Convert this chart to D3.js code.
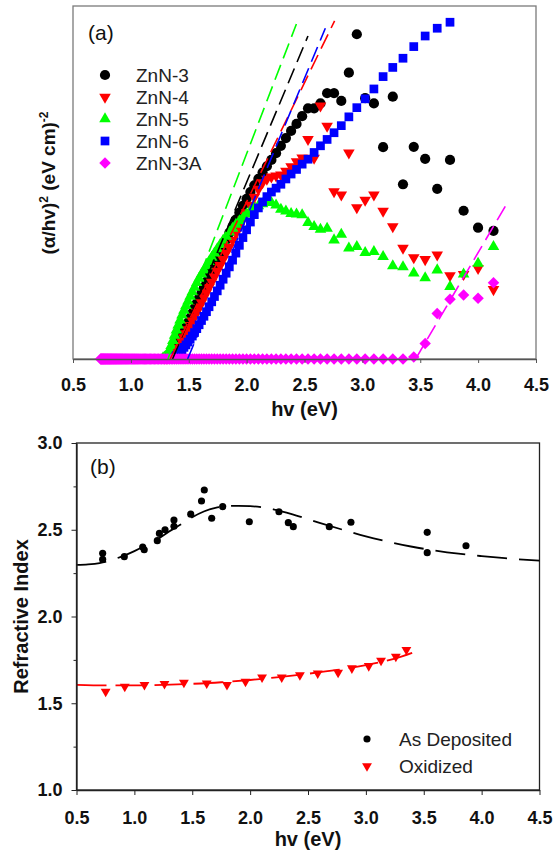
<!DOCTYPE html>
<html>
<head>
<meta charset="utf-8">
<script src="https://cdn.jsdelivr.net/npm/d3@7"></script>
<style>
  body { margin: 0; background: #fff; }
  svg { display: block; }
</style>
</head>
<body>
<svg id="chart" width="553" height="852"></svg>
<script>
// ---------- (a) Tauc plots: (alpha/hv)^2 versus photon energy ----------
// scan wavelengths in nm, long to short; every series below ends at 300 nm
const wavelengthNm = [
  1680,1670,1660,1650,1640,1630,1620,1610,1600,1590,1580,1570,1560,1550,1540,1530,1520,1510,1500,1490,
  1480,1470,1460,1450,1440,1430,1420,1410,1400,1390,1380,1370,1360,1350,1340,1330,1320,1310,1300,1290,
  1280,1270,1260,1250,1240,1230,1220,1210,1200,1190,1180,1170,1160,1150,1140,1130,1120,1110,1100,1090,
  1080,1070,1060,1050,1040,1030,1020,1010,1000,990,980,970,960,950,940,930,920,910,900,890,
  880,870,860,850,840,830,820,810,800,790,780,770,760,750,740,730,720,710,700,690,
  680,670,660,650,640,630,620,610,600,590,580,570,560,550,540,530,520,510,500,490,
  480,470,460,450,440,430,420,410,400,390,380,370,360,350,340,330,320,310,300
];

const seriesNames = ['ZnN-3', 'ZnN-4', 'ZnN-5', 'ZnN-6', 'ZnN-3A'];

// (alpha/hv)^2 in arbitrary units; ZnN-3 and ZnN-4 start at 960 nm
const zn3Values = [
  0.3,0.3,0.4,0.6,1.0,1.6,2.4,3.3,4.3,5.4,6.6,7.8,9.0,10.3,11.6,13.0,14.4,15.8,17.3,18.8,
  20.3,21.9,23.5,25.1,26.8,28.5,30.2,32.0,33.8,35.7,37.6,39.5,41.5,43.4,45.4,47.3,49.2,51.0,52.8,54.6,
  56.4,58.3,60.4,62.6,64.6,66.6,68.8,71.0,71.0,72.4,75.3,75.3,73.1,81.1,92.0,73.9,72.4,60.0,74.3,49.5,
  60.1,56.7,48.2,56.4,42.0,37.2,36.3
];
const zn4Values = [
  0.3,0.3,0.4,0.6,0.8,1.2,1.8,2.4,3.1,3.9,4.9,6.1,7.2,8.3,9.5,10.8,12.0,13.3,14.6,16.0,
  17.4,18.8,20.3,21.8,23.3,24.9,26.5,28.2,30.0,31.7,33.6,35.5,37.4,39.4,41.5,43.6,45.9,48.1,50.0,51.0,
  51.6,51.9,52.2,53.2,54.5,55.9,57.0,62.2,56.9,71.7,66.0,47.4,46.5,58.4,42.9,45.0,46.5,41.9,37.5,31.4,
  28.7,28.2,29.5,23.6,24.0,25.7,19.7
];
// ZnN-5 starts at 970 nm
const zn5Values = [
  0.3,0.5,0.9,1.5,2.5,3.8,5.2,6.7,8.2,9.6,11.0,12.4,13.8,15.1,16.4,17.7,19.0,20.3,21.6,22.8,
  24.0,25.2,26.4,27.6,28.8,30.0,31.2,32.4,33.6,34.7,35.9,37.0,38.1,39.1,40.1,41.0,41.9,42.7,43.4,43.9,
  44.3,44.3,43.6,42.4,41.9,41.2,41.0,40.8,38.6,37.5,36.7,37.0,33.7,35.3,31.4,31.8,30.1,30.4,29.0,26.4,
  26.1,24.3,23.0,25.2,20.5,24.0,27.1,31.8
];
// ZnN-6 starts at 900 nm and stops at 330 nm
const zn6Values = [
  0.6,1.0,1.5,2.0,2.6,3.3,4.0,4.8,5.6,6.5,7.5,8.6,9.7,10.9,12.1,13.4,14.8,16.2,17.7,19.3,
  20.9,22.6,24.3,26.1,28.0,30.0,32.2,34.4,36.6,38.8,40.9,42.8,44.5,46.0,47.3,48.4,49.5,51.0,52.4,53.7,
  55.2,56.6,58.5,60.4,62.2,64.1,66.1,68.6,71.2,73.7,76.5,80.0,82.6,85.2,88.5,91.5,93.7,95.4,null,null,
  null
];
// ZnN-3A covers the whole scan
const zn3aValues = [
  0,0,0,0,0,0,0,0,0,0,0,0,0,0,0,0,0,0,0,0,
  0,0,0,0,0,0,0,0,0,0,0,0,0,0,0,0,0,0,0,0,
  0,0,0,0,0,0,0,0,0,0,0,0,0,0,0,0,0,0,0,0,
  0,0,0,0,0,0,0,0,0,0,0,0,0,0,0,0,0,0,0,0,
  0,0,0,0,0,0,0,0,0,0,0,0,0,0,0,0,0,0,0,0,
  0,0,0,0,0,0,0,0,0,0,0,0,0,0,0,0,0,0,0,0,
  0,0,0,0,0,0,0,0,0,0,0,0,0.6,4.4,12.9,16.9,18.1,17.2,21.6
];

// linear extrapolations to the energy axis: [start eV, value], [end eV, value]
const zn3Tangent  = [[1.36, 0], [2.53, 91.5]];
const zn4Tangent  = [[1.34, 0], [2.76, 95.8]];
const zn5Tangent  = [[1.32, 0], [2.43, 94.9]];
const zn6Tangent  = [[1.49, 0], [2.68, 93.7]];
const zn3aTangent = [[3.46, 0], [4.25, 44.1]];

const energyTicks = [0.5, 1.0, 1.5, 2.0, 2.5, 3.0, 3.5, 4.0, 4.5];

// ---------- (b) refractive index ----------
const depositedEv = [0.726,0.726,0.913,1.072,1.085,1.198,1.216,1.265,1.342,1.342,1.487,1.58,1.604,1.668,1.763,1.993,2.249,2.33,2.373,2.684,2.871,3.53,3.53,3.865];
const depositedN  = [2.364,2.329,2.345,2.400,2.385,2.437,2.479,2.500,2.520,2.556,2.590,2.666,2.729,2.566,2.633,2.546,2.604,2.541,2.518,2.518,2.543,2.485,2.368,2.408];
const oxidizedEv = [0.752,0.917,1.087,1.26,1.428,1.625,1.80,1.96,2.103,2.273,2.43,2.584,2.76,2.879,3.025,3.131,3.259,3.35];
const oxidizedN  = [1.567,1.596,1.606,1.612,1.619,1.615,1.606,1.625,1.650,1.650,1.663,1.673,1.677,1.702,1.715,1.746,1.769,1.808];

// dispersion fits
const depositedFitEv = [0.5,0.6,0.7,0.8,0.9,1.0,1.1,1.2,1.3,1.4,1.5,1.6,1.7,1.8,1.9,2.0,2.2,2.4,2.6,2.8,3.0,3.2,3.4,3.6,3.8,4.0,4.2,4.5];
const depositedFitN  = [2.297,2.300,2.308,2.325,2.348,2.377,2.410,2.446,2.490,2.530,2.572,2.605,2.626,2.636,2.638,2.636,2.618,2.582,2.540,2.500,2.462,2.430,2.402,2.380,2.362,2.348,2.336,2.322];
const oxidizedFitEv = [0.5,0.75,1.0,1.25,1.5,1.75,2.0,2.25,2.5,2.75,3.0,3.25,3.4];
const oxidizedFitN  = [1.606,1.603,1.603,1.606,1.612,1.621,1.634,1.651,1.670,1.692,1.720,1.757,1.790];

const indexTicks = [1.0, 1.5, 2.0, 2.5, 3.0];
const indexMinorTicks = [1.25, 1.75, 2.25, 2.75];
const legendB = ['As Deposited', 'Oxidized'];

// ---------- drawing ----------
const FONT = '"Liberation Sans", Arial, Helvetica, sans-serif';
const svg = d3.select('#chart').style('font-family', FONT);
const fmt = d3.format('.1f');
const toEv = nm => 1239.84 / nm;

function series(values) {
  const offset = wavelengthNm.length - values.length;
  return values.map((v, i) => ({ e: toEv(wavelengthNm[offset + i]), v }))
               .filter(d => d.v !== null);
}

const colors = ['#000000', '#ff0000', '#00ff00', '#0000ff', '#ff00ff'];
const shapes = [
  { type: d3.symbolCircle, size: 82, rot: 0 },
  { type: d3.symbolTriangle, size: 58, rot: 180 },
  { type: d3.symbolTriangle, size: 58, rot: 0 },
  { type: d3.symbolSquare, size: 76, rot: 0 },
  { type: d3.symbolSquare, size: 66, rot: 45 }
];
const allSeries = [zn3Values, zn4Values, zn5Values, zn6Values, zn3aValues].map(series);
const tangents = [zn3Tangent, zn4Tangent, zn5Tangent, zn6Tangent, zn3aTangent];

// panel (a)
const xA = d3.scaleLinear().domain([0.5, 4.5]).range([73, 536]);
const yA = d3.scaleLinear().domain([0, 100]).range([359, 6]);
const gA = svg.append('g');

gA.append('rect')
  .attr('x', xA.range()[0]).attr('y', yA.range()[1])
  .attr('width', xA.range()[1] - xA.range()[0])
  .attr('height', yA.range()[0] - yA.range()[1])
  .attr('fill', 'none').attr('stroke', '#7a7a7a').attr('stroke-width', 1.3);

allSeries.forEach((pts, k) => {
  const path = d3.symbol().type(shapes[k].type).size(shapes[k].size)();
  gA.append('g').selectAll('path').data(pts).join('path')
    .attr('d', path)
    .attr('transform', d => `translate(${xA(d.e)},${yA(d.v)}) rotate(${shapes[k].rot})`)
    .attr('fill', colors[k]);
});

const lineA = d3.line().x(d => xA(d[0])).y(d => yA(d[1]));
tangents.forEach((t, k) => {
  gA.append('path').attr('d', lineA(t))
    .attr('fill', 'none').attr('stroke', colors[k])
    .attr('stroke-width', 1.6).attr('stroke-dasharray', '16,7');
});

const axA = gA.append('g').attr('transform', `translate(0,${yA(0)})`)
  .call(d3.axisBottom(xA).tickValues(energyTicks).tickSize(4).tickSizeOuter(0).tickFormat(fmt));
axA.select('.domain').attr('stroke', '#555').attr('stroke-width', 1.3);
axA.selectAll('.tick line').attr('stroke', '#555');
axA.selectAll('.tick text').attr('y', 19).attr('font-size', 18).attr('font-weight', 'bold')
  .attr('font-family', FONT).attr('fill', '#111');

gA.append('text').attr('x', (xA.range()[0] + xA.range()[1]) / 2).attr('y', 416)
  .attr('text-anchor', 'middle').attr('font-size', 20).attr('font-weight', 'bold').attr('fill', '#111')
  .text('hv (eV)');

const tA = gA.append('text').attr('transform', 'translate(55,183) rotate(-90)')
  .attr('text-anchor', 'middle').attr('font-size', 19).attr('font-weight', 'bold').attr('fill', '#111');
tA.append('tspan').text('(α/hv)');
tA.append('tspan').attr('dy', -7).attr('font-size', 12).text('2');
tA.append('tspan').attr('dy', 7).text(' (eV cm)');
tA.append('tspan').attr('dy', -7).attr('font-size', 12).text('-2');

gA.append('text').attr('x', 88).attr('y', 40).attr('font-size', 21).attr('fill', '#111').text('(a)');

const legA = gA.append('g');
seriesNames.forEach((name, k) => {
  const y = 75 + k * 22;
  legA.append('path').attr('d', d3.symbol().type(shapes[k].type).size(shapes[k].size)())
    .attr('transform', `translate(105,${y}) rotate(${shapes[k].rot})`).attr('fill', colors[k]);
  legA.append('text').attr('x', 136).attr('y', y).attr('dy', '0.36em')
    .attr('font-size', 19).attr('fill', '#222').text(name);
});

// panel (b)
const xB = d3.scaleLinear().domain([0.5, 4.5]).range([76.5, 539.5]);
const yB = d3.scaleLinear().domain([1, 3]).range([790, 443]);
const gB = svg.append('g');

gB.append('rect')
  .attr('x', xB.range()[0]).attr('y', yB.range()[1])
  .attr('width', xB.range()[1] - xB.range()[0])
  .attr('height', yB.range()[0] - yB.range()[1])
  .attr('fill', 'none').attr('stroke', '#222').attr('stroke-width', 1.3);

const lineB = d3.line().x(d => xB(d[0])).y(d => yB(d[1])).curve(d3.curveMonotoneX);
gB.append('path').attr('d', lineB(d3.zip(depositedFitEv, depositedFitN)))
  .attr('fill', 'none').attr('stroke', '#000').attr('stroke-width', 1.8).attr('stroke-dasharray', '30,12');
gB.append('path').attr('d', lineB(d3.zip(oxidizedFitEv, oxidizedFitN)))
  .attr('fill', 'none').attr('stroke', '#ff0000').attr('stroke-width', 1.8).attr('stroke-dasharray', '30,9');

const circB = d3.symbol().type(d3.symbolCircle).size(40)();
const triB = d3.symbol().type(d3.symbolTriangle).size(42)();
gB.append('g').selectAll('path').data(d3.zip(depositedEv, depositedN)).join('path')
  .attr('d', circB).attr('transform', d => `translate(${xB(d[0])},${yB(d[1])})`).attr('fill', '#000');
gB.append('g').selectAll('path').data(d3.zip(oxidizedEv, oxidizedN)).join('path')
  .attr('d', triB).attr('transform', d => `translate(${xB(d[0])},${yB(d[1])}) rotate(180)`).attr('fill', '#ff0000');

const axBx = gB.append('g').attr('transform', `translate(0,${yB(1)})`)
  .call(d3.axisBottom(xB).tickValues(energyTicks).tickSize(5).tickSizeOuter(0).tickFormat(fmt));
const axBy = gB.append('g').attr('transform', `translate(${xB(0.5)},0)`)
  .call(d3.axisLeft(yB).tickValues(indexTicks).tickSize(5).tickSizeOuter(0).tickPadding(9).tickFormat(fmt));
gB.append('g').attr('transform', `translate(${xB(0.5)},0)`)
  .call(d3.axisLeft(yB).tickValues(indexMinorTicks).tickSize(3).tickSizeOuter(0).tickFormat(() => ''))
  .select('.domain').remove();
[axBx, axBy].forEach(ax => {
  ax.select('.domain').attr('stroke', '#222').attr('stroke-width', 1.3);
  ax.selectAll('.tick text').attr('font-size', 18).attr('font-weight', 'bold')
    .attr('font-family', FONT).attr('fill', '#111');
});
axBx.selectAll('.tick text').attr('y', 21);
gB.selectAll('.tick line').attr('stroke', '#222');

gB.append('text').attr('x', (xB.range()[0] + xB.range()[1]) / 2).attr('y', 846)
  .attr('text-anchor', 'middle').attr('font-size', 20).attr('font-weight', 'bold').attr('fill', '#111')
  .text('hv (eV)');
gB.append('text').attr('transform', `translate(28,${(yB.range()[0] + yB.range()[1]) / 2}) rotate(-90)`)
  .attr('text-anchor', 'middle').attr('font-size', 20).attr('font-weight', 'bold').attr('fill', '#111')
  .text('Refractive Index');
gB.append('text').attr('x', 90).attr('y', 474).attr('font-size', 21).attr('fill', '#111').text('(b)');

const legB = gB.append('g');
legB.append('path').attr('d', circB).attr('transform', 'translate(367,739)').attr('fill', '#000');
legB.append('path').attr('d', triB).attr('transform', 'translate(367,766) rotate(180)').attr('fill', '#ff0000');
legendB.forEach((label, k) => {
  legB.append('text').attr('x', 399).attr('y', 739 + k * 27).attr('dy', '0.36em')
    .attr('font-size', 19).attr('fill', '#222').text(label);
});
</script>
</body>
</html>
